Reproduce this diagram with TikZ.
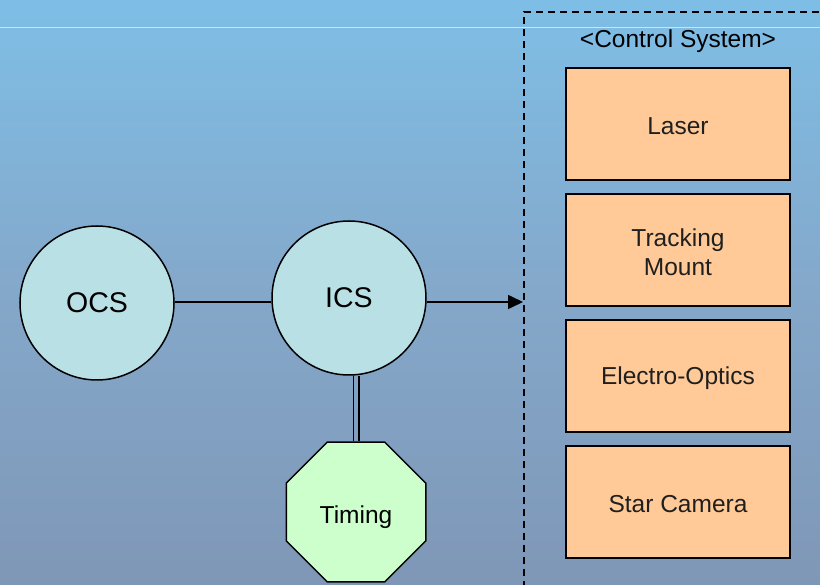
\documentclass[tikz,border=0pt]{standalone}
\usepackage{fontspec}
\setmainfont{Liberation Sans}
\usetikzlibrary{shapes.geometric,arrows.meta}
\definecolor{bgtop}{HTML}{7EBEE6}
\definecolor{bgmid}{HTML}{84A8CA}
\definecolor{bgbot}{HTML}{7F97B7}
\definecolor{circfill}{HTML}{B9E0E4}
\definecolor{boxfill}{HTML}{FFCA98}
\definecolor{octfill}{HTML}{CCFFCC}
\begin{document}
\begin{tikzpicture}[x=1pt,y=-1pt,
  circnode/.style={circle,draw=black,line width=1.5pt,fill=circfill,minimum size=154pt,inner sep=0pt,font=\fontsize{28.5}{32}\selectfont},
  sysbox/.style={rectangle,draw=black,line width=2pt,fill=boxfill,minimum width=224pt,minimum height=112pt,inner sep=0pt},
  boxtext/.style={inner sep=0pt,align=center,font=\fontsize{24.5}{29}\selectfont,text=black!88},
  octnode/.style={regular polygon,regular polygon sides=8,draw=black,line width=1.5pt,fill=octfill,minimum size=151pt,inner sep=0pt},
  link/.style={line width=1.6pt,draw=black}]
\useasboundingbox (0,0) rectangle (820,585);
\shade[top color=bgtop,bottom color=bgbot,middle color=bgmid] (0,0) rectangle (820,585);
\draw[white,opacity=0.6,line width=0.8pt] (0,27) -- (820,27);
% control system frame
\draw[line width=1.5pt,dash pattern=on 7pt off 5pt] (524,600) -- (524,12) -- (830,12);
\node[boxtext,text=black] (cstitle) at (678,41.5) {<Control System>};
\node[sysbox] (laser) at (678,124) {};
\node[sysbox] (mount) at (678,250) {};
\node[sysbox] (eo) at (678,376) {};
\node[sysbox] (cam) at (678,502) {};
\node[boxtext] (laserT) at ([yshift=-2.5pt]laser.center) {Laser};
\node[boxtext] (mountT) at ([yshift=-2.5pt]mount.center) {Tracking\\Mount};
\node[boxtext] (eoT) at ([yshift=-2.5pt]eo.center) {Electro-Optics};
\node[boxtext] (camT) at ([yshift=-2.5pt]cam.center) {Star Camera};
% nodes
\node[circnode] (ocs) at (97,303) {OCS};
\node[circnode] (ics) at (349,298) {ICS};
\node[octnode] (timing) at (356,512) {};
\node[boxtext,text=black] (timingT) at ([yshift=-5pt]timing.center) {Timing};
\coordinate (csin) at (523,302);
% connectors
\draw[link] (ocs.east |- 0,302) -- (ics.west |- 0,302);
\draw[link,-{Triangle[length=15pt,width=14pt]}] (ics.east |- 0,302) -- (csin);
\draw[link,line width=1.8pt] ([xshift=-2.6pt]timing.north) -- ([xshift=-2.6pt]timing.north |- ics.south);
\draw[link,line width=1.8pt] ([xshift=2.6pt]timing.north) -- ([xshift=2.6pt]timing.north |- ics.south);
\end{tikzpicture}
\end{document}
